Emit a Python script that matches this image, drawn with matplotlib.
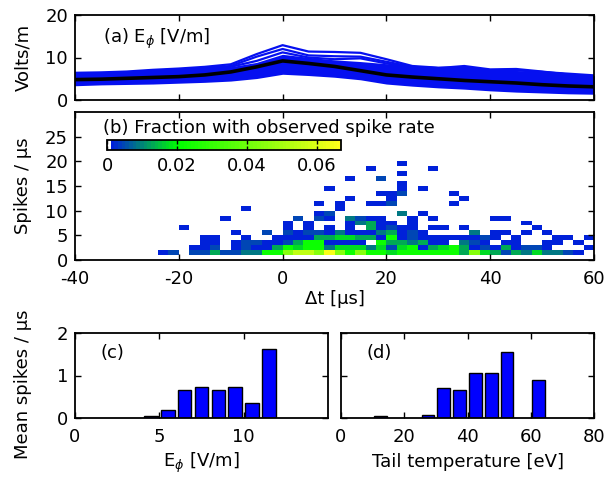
import numpy as np
import matplotlib
matplotlib.use("Agg")
import matplotlib.pyplot as plt
from matplotlib.colors import ListedColormap

plt.rcParams.update(
    {
        "font.family": "DejaVu Sans",
        "font.size": 13,
        "axes.linewidth": 1.3,
        "axes.unicode_minus": False,
        "xtick.direction": "in",
        "ytick.direction": "in",
        "xtick.top": True,
        "ytick.right": True,
        "xtick.major.size": 4,
        "ytick.major.size": 4,
        "xtick.major.width": 1.0,
        "ytick.major.width": 1.0,
        "xtick.major.pad": 7,
        "ytick.major.pad": 5,
    }
)

# (a) E_phi around spike events [V/m]
t_field = [-40, -35, -30, -25, -20, -15, -10, -5, 0, 5, 10, 15, 20, 25, 30, 35, 40, 45, 50, 55, 60]
field_mean = [4.8, 4.9, 5.1, 5.3, 5.5, 5.9, 6.6, 7.8, 9.2, 8.6, 7.9, 6.9, 5.9, 5.4, 5.0, 4.6, 4.3, 4.0, 3.6, 3.3, 3.1]
field_low = [3.6, 3.8, 3.9, 4.0, 4.2, 4.4, 4.7, 5.3, 6.3, 6.0, 5.6, 5.0, 4.0, 3.5, 3.1, 2.8, 2.4, 2.1, 1.9, 1.7, 1.6]
field_high = [6.3, 6.3, 6.5, 6.9, 7.1, 7.3, 7.6, 8.6, 10.5, 9.8, 9.2, 8.8, 8.3, 7.6, 7.4, 7.3, 6.9, 6.7, 6.4, 6.0, 5.5]
field_trace1 = [6.4, 6.5, 6.7, 7.1, 7.4, 7.8, 8.4, 10.8, 12.9, 11.4, 11.3, 11.1, 9.6, 8.0, 7.6, 7.5, 7.0, 7.0, 6.6, 6.2, 5.8]
field_trace2 = [6.0, 6.2, 6.5, 6.9, 7.2, 7.5, 8.0, 10.2, 12.0, 10.5, 10.3, 10.2, 9.0, 7.8, 7.5, 8.0, 7.2, 7.3, 6.7, 6.0, 5.4]
field_trace3 = [5.7, 5.9, 6.2, 6.6, 7.0, 7.3, 7.8, 9.2, 11.2, 10.0, 9.6, 9.8, 8.6, 7.6, 7.5, 7.7, 7.0, 7.1, 6.5, 6.0, 5.3]

# (b) fraction of events per (dt, spike rate) bin.
# One string per 1/us rate bin (lowest first), one character per 2 us bin.
dt_edges = np.arange(-40, 61, 2)
rate_edges = np.arange(0, 31, 1)
level_values = {".": 0.0, "b": 0.002, "c": 0.005, "t": 0.009, "g": 0.013,
                "G": 0.017, "L": 0.022, "y": 0.045, "Y": 0.055, "Z": 0.065}
rate_rows = [
    ".......... .......... .......... .......... ..........",
    "........bc .ccgccttLL yYYyZyLyLL GLLLLLLgyG gcgtGttcb.",
    ".......... .bbc.bcbbg LGLLtGGGtG cGLbgGLgbc bgbccb...b",
    ".......... ..bb.bccbb cgLLbbbb.L ggtgbb.tcb .bb..bb.b.",
    ".......... ..bb..b..b bbbggGGggb Lbcbbbbbbc b.b...bb.b",
    ".......... .....b..c. cbccbtbbbt gbcb....t. bb.b.b....",
    ".......... b......... b.b.b.b.gb cbb.bb.b.. ....b.....",
    ".......... .......... b.b...btgb b.b....... ...b......",
    ".......... ....b..... .c.cb.tcbb ..b.b..... bb........",
    ".......... .......... ...bc..... .t.b...... ..........",
    ".......... ......b... .....b.... .......... ..........",
    ".......... .......... ...b.b..bb c.....b... ..........",
    ".......... .......... ......b... b......b.. ..........",
    ".......... .......... .........b bc....b... ..........",
    ".......... .......... ....b..... .b.b...... ..........",
    ".......... .......... .......... .b........ ..........",
    ".......... .......... ......b..c .......... ..........",
    ".......... .......... .......... .b........ ..........",
    ".......... .......... ........b. ....b..... ..........",
    ".......... .......... .......... .b........ ..........",
]
fraction_max = 0.067

# (c) mean spike rate vs E_phi, (d) vs tail temperature
ephi_centers = [4.5, 5.5, 6.5, 7.5, 8.5, 9.5, 10.5, 11.5]
ephi_spikes = [0.04, 0.18, 0.66, 0.73, 0.65, 0.73, 0.35, 1.63]
temp_centers = [12.5, 27.5, 32.5, 37.5, 42.5, 47.5, 52.5, 62.5]
temp_spikes = [0.05, 0.08, 0.70, 0.65, 1.05, 1.05, 1.55, 0.89]

grid = np.zeros((len(rate_edges) - 1, len(dt_edges) - 1))
for k, row in enumerate(rate_rows):
    grid[k] = [level_values[ch] for ch in row.replace(" ", "")]
grid = np.ma.masked_equal(grid, 0.0)

# white for empty bins, then blue -> green -> yellow
blue = np.array([0.0, 0.08, 0.9])
green = np.array([0.0, 1.0, 0.0])
yellow = np.array([1.0, 1.0, 0.1])
colors = [(1.0, 1.0, 1.0)]
for i in range(1, 64):
    f = i / 63
    if f <= 0.3:
        s = f / 0.3
        colors.append(tuple(blue * (1 - s) + green * s))
    else:
        s = (f - 0.3) / 0.7
        colors.append(tuple(green * (1 - s) + yellow * s))
cmap = ListedColormap(colors)

W, H = 606, 483
fig = plt.figure(figsize=(W / 100, H / 100), dpi=100)


def px_axes(left, top, right, bottom):
    return fig.add_axes([left / W, 1 - bottom / H, (right - left) / W, (bottom - top) / H])


ax_a = px_axes(75, 15, 594, 100)
ax_b = px_axes(75, 112, 594, 260)
ax_c = px_axes(75, 333, 328, 418)
ax_d = px_axes(341, 333, 594, 418)

line_blue = "#0510f0"

# (a)
ax_a.fill_between(t_field, field_low, field_high, color=line_blue, lw=1.5)
for tr in (field_trace1, field_trace2, field_trace3):
    ax_a.plot(t_field, tr, color=line_blue, lw=1.6)
ax_a.plot(t_field, field_mean, color="black", lw=2.6)
ax_a.set_xlim(-40, 60)
ax_a.set_ylim(0, 20)
ax_a.set_xticks(np.arange(-40, 61, 20))
ax_a.set_yticks([0, 10, 20])
ax_a.tick_params(labelbottom=False)
ax_a.set_ylabel("Volts/m")
ax_a.yaxis.set_label_coords(-0.082, 0.5)
ax_a.text(0.054, 0.72, r"(a) E$_\phi$ [V/m]", transform=ax_a.transAxes,
          ha="left", va="center")

# (b)
mesh = ax_b.pcolormesh(dt_edges, rate_edges, grid, cmap=cmap, vmin=0, vmax=fraction_max)
ax_b.set_xlim(-40, 60)
ax_b.set_ylim(0, 30)
ax_b.set_xticks(np.arange(-40, 61, 20))
ax_b.set_yticks(np.arange(0, 26, 5))
ax_b.set_xlabel("\u0394t [\u03bcs]", labelpad=2)
ax_b.set_ylabel("Spikes / \u03bcs")
ax_b.yaxis.set_label_coords(-0.082, 0.5)
ax_b.text(0.054, 0.895, "(b) Fraction with observed spike rate", transform=ax_b.transAxes,
          ha="left", va="center")

cax = ax_b.inset_axes([0.0617, 0.742, 0.451, 0.0675])
cb = fig.colorbar(mesh, cax=cax, orientation="horizontal")
cb.set_ticks([0, 0.02, 0.04, 0.06])
cb.set_ticklabels(["0", "0.02", "0.04", "0.06"])
cb.outline.set_linewidth(1.3)
cax.tick_params(axis="x", direction="in", top=True, bottom=True, length=3, width=1.0, pad=5)

# (c)
ax_c.bar(ephi_centers, ephi_spikes, width=0.8, color="#0000ff", edgecolor="black", lw=1.0)
ax_c.set_xlim(0, 15)
ax_c.set_ylim(0, 2)
ax_c.set_xticks([0, 5, 10])
ax_c.set_yticks([0, 1, 2])
ax_c.set_xlabel(r"E$_\phi$ [V/m]", labelpad=4)
ax_c.set_ylabel("Mean spikes / \u03bcs")
ax_c.yaxis.set_label_coords(-0.168, 0.4)
ax_c.text(0.1, 0.76, "(c)", transform=ax_c.transAxes, ha="left", va="center")

# (d)
ax_d.bar(temp_centers, temp_spikes, width=4, color="#0000ff", edgecolor="black", lw=1.0)
ax_d.set_xlim(0, 80)
ax_d.set_ylim(0, 2)
ax_d.set_xticks(np.arange(0, 81, 20))
ax_d.set_yticks([0, 1, 2])
ax_d.tick_params(labelleft=False)
ax_d.set_xlabel("Tail temperature [eV]", labelpad=5)
ax_d.text(0.1, 0.76, "(d)", transform=ax_d.transAxes, ha="left", va="center")

fig.savefig("out.png", dpi=100)
